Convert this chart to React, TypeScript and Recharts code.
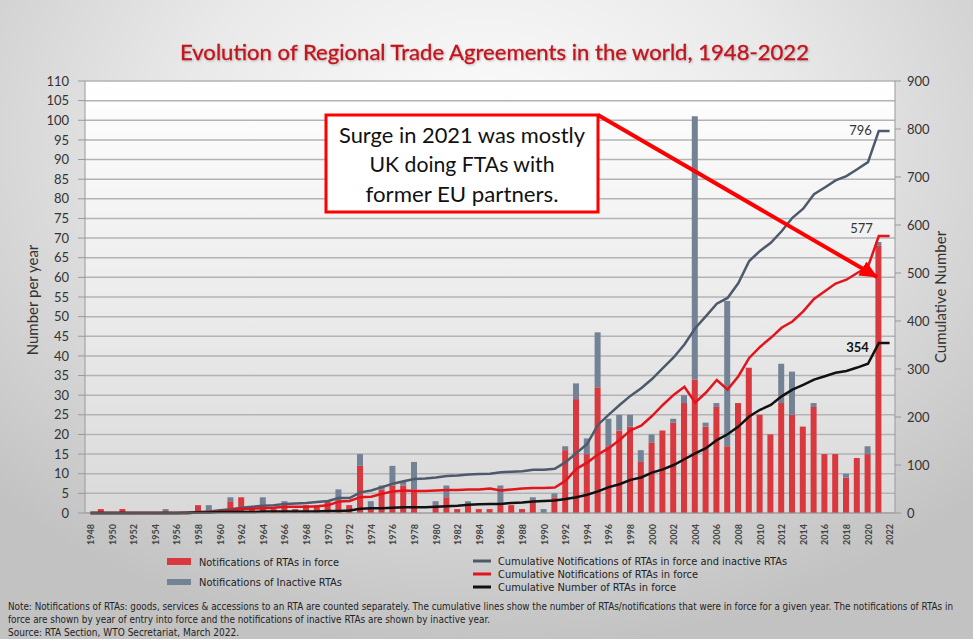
import React from "react";
import {
  ComposedChart,
  Bar,
  Line,
  XAxis,
  YAxis,
  CartesianGrid,
  LabelList,
} from "recharts";

// years 1948-2022
const years = [
  1948, 1949, 1950, 1951, 1952, 1953, 1954, 1955, 1956, 1957, 1958, 1959, 1960,
  1961, 1962, 1963, 1964, 1965, 1966, 1967, 1968, 1969, 1970, 1971, 1972, 1973,
  1974, 1975, 1976, 1977, 1978, 1979, 1980, 1981, 1982, 1983, 1984, 1985, 1986,
  1987, 1988, 1989, 1990, 1991, 1992, 1993, 1994, 1995, 1996, 1997, 1998, 1999,
  2000, 2001, 2002, 2003, 2004, 2005, 2006, 2007, 2008, 2009, 2010, 2011, 2012,
  2013, 2014, 2015, 2016, 2017, 2018, 2019, 2020, 2021, 2022,
];

// notifications of RTAs in force, per year
const inForce = [
  0, 1, 0, 1, 0, 0, 0, 0, 0, 0, 2, 0, 0,
  3, 4, 1, 2, 1, 2, 1, 2, 2, 3, 3, 2, 12,
  1, 6, 7, 7, 6, 0, 2, 4, 1, 2, 1, 1, 2,
  2, 1, 3, 0, 4, 16, 29, 15, 32, 17, 21, 22, 13,
  18, 21, 23, 28, 34, 22, 27, 17, 28, 37, 25, 20, 28,
  25, 22, 27, 15, 15, 9, 14, 15, 68, 0,
];

// notifications of inactive RTAs, per year
const inactive = [
  0, 0, 0, 0, 0, 0, 0, 1, 0, 0, 0, 2, 0,
  1, 0, 0, 2, 0, 1, 0, 0, 0, 0, 3, 0, 3,
  2, 1, 5, 1, 7, 0, 1, 3, 0, 1, 0, 0, 5,
  0, 0, 1, 1, 1, 1, 4, 4, 14, 7, 4, 3, 3,
  2, 0, 1, 2, 67, 1, 1, 37, 0, 0, 0, 0, 10,
  11, 0, 1, 0, 0, 1, 0, 2, 1, 0,
];

// cumulative notifications, in force + inactive
const cumAll = [
  0, 0, 0, 0, 0, 0, 0, 0, 0, 1, 2, 3, 6,
  8, 11, 13, 15, 16, 19, 20, 21, 23, 25, 31, 31, 43,
  47, 54, 61, 66, 71, 72, 74, 77, 78, 80, 81, 82, 85,
  86, 87, 90, 90, 92, 106, 125, 144, 184, 205, 225, 244, 260,
  279, 302, 324, 351, 385, 410, 436, 448, 479, 525, 546, 563, 587,
  615, 634, 664, 678, 693, 702, 716, 731, 796, 796,
];

// cumulative notifications in force
const cumInForce = [
  0, 0, 0, 0, 0, 0, 0, 0, 0, 0, 1, 2, 3,
  5, 8, 9, 10, 11, 13, 13, 13, 14, 16, 24, 25, 33,
  34, 40, 45, 47, 46, 46, 47, 48, 48, 49, 49, 51, 47,
  49, 51, 52, 52, 53, 67, 92, 105, 122, 135, 152, 172, 182,
  202, 225, 246, 263, 230, 251, 277, 257, 285, 323, 346, 365, 386,
  399, 420, 446, 462, 478, 486, 500, 513, 577, 577,
];

// cumulative number of RTAs in force
const cumRtas = [
  0, 0, 0, 0, 0, 0, 0, 0, 0, 0, 1, 1, 2,
  2, 2, 2, 3, 3, 3, 3, 3, 3, 4, 4, 5, 9,
  10, 10, 11, 12, 12, 12, 13, 14, 15, 17, 18, 19, 19,
  21, 22, 24, 25, 26, 29, 33, 38, 45, 54, 60, 69, 74,
  84, 91, 100, 112, 124, 135, 152, 164, 180, 201, 215, 225, 243,
  257, 267, 278, 285, 292, 296, 303, 311, 354, 354,
];

const leftTicks = [0, 5, 10, 15, 20, 25, 30, 35, 40, 45, 50, 55, 60, 65, 70, 75, 80, 85, 90, 95, 100, 105, 110];
const rightTicks = [0, 100, 200, 300, 400, 500, 600, 700, 800, 900];

const data = years.map((year, i) => ({
  year,
  inForce: inForce[i],
  inactive: inactive[i],
  cumAll: cumAll[i],
  cumInForce: cumInForce[i],
  cumRtas: cumRtas[i],
}));

const LABEL_YEAR = 2021;
const labelIdx = years.indexOf(LABEL_YEAR);

const FONT = "Lato, 'Open Sans', sans-serif";
const NARROW = "'Liberation Sans Narrow', 'DejaVu Sans Condensed', sans-serif";

const YearTick = (props: any) => {
  const { x, y, payload } = props;
  return (
    <text
      x={x}
      y={y + 3}
      transform={`rotate(-90 ${x} ${y + 3})`}
      textAnchor="end"
      dominantBaseline="central"
      fontSize={9}
      fontWeight="bold"
      fontFamily={FONT}
      fill="#444"
    >
      {payload.value}
    </text>
  );
};

const endLabel = (dx: number, dy: number, bold: boolean, color: string) => (p: any) => {
  if (p.index !== labelIdx) return <g />;
  return (
    <text
      x={p.x + dx}
      y={p.y + dy}
      textAnchor="end"
      fontSize={13}
      fontWeight={bold ? "bold" : "normal"}
      fontFamily={FONT}
      fill={color}
    >
      {p.value}
    </text>
  );
};

export default function App() {
  return (
    <div
      style={{
        position: "absolute",
        left: 0,
        top: 0,
        width: 973,
        height: 639,
        overflow: "hidden",
        background:
          "radial-gradient(ellipse 70% 80% at 50% 22%, #fdfdfd 0%, #e9e9e9 45%, #c2c2c2 100%)",
      }}
    >
      <ComposedChart
        width={973}
        height={560}
        data={data}
        margin={{ top: 81, right: 33, bottom: 7, left: 20 }}
        barGap={0}
      >
        <defs>
          <linearGradient id="plotBg" x1="0" y1="0" x2="0" y2="1">
            <stop offset="0%" stopColor="#ffffff" />
            <stop offset="100%" stopColor="#d9d9d9" />
          </linearGradient>
        </defs>
        <CartesianGrid
          yAxisId="left"
          vertical={false}
          fill="url(#plotBg)"
          fillOpacity={1}
          stroke="#b3b3b3"
          strokeWidth={1.5}
        />
        <XAxis
          dataKey="year"
          interval={1}
          height={40}
          tick={<YearTick />}
          tickLine={false}
          axisLine={{ stroke: "#999" }}
        />
        <YAxis
          yAxisId="left"
          width={65}
          domain={[0, 110]}
          ticks={leftTicks}
          interval={0}
          tickSize={7}
          tickMargin={9}
          tick={{ fill: "#333", fontSize: 13, fontFamily: FONT }}
          axisLine={{ stroke: "#999" }}
          tickLine={{ stroke: "#999" }}
        />
        <YAxis
          yAxisId="right"
          orientation="right"
          width={45}
          domain={[0, 900]}
          ticks={rightTicks}
          interval={0}
          tickSize={6}
          tickMargin={6}
          tick={{ fill: "#333", fontSize: 13, fontFamily: FONT, textAnchor: "start" }}
          axisLine={{ stroke: "#999" }}
          tickLine={{ stroke: "#999" }}
        />
        <Bar
          yAxisId="left"
          dataKey="inForce"
          stackId="a"
          fill="#d9383f"
          barSize={6}
          isAnimationActive={false}
        />
        <Bar
          yAxisId="left"
          dataKey="inactive"
          stackId="a"
          fill="#738294"
          barSize={6}
          isAnimationActive={false}
        />
        <Line
          yAxisId="right"
          dataKey="cumAll"
          type="linear"
          stroke="#4d5a6b"
          strokeWidth={2.5}
          dot={false}
          isAnimationActive={false}
        >
          <LabelList dataKey="cumAll" content={endLabel(-7, 4, false, "#333")} />
        </Line>
        <Line
          yAxisId="right"
          dataKey="cumInForce"
          type="linear"
          stroke="#e3141c"
          strokeWidth={2.5}
          dot={false}
          isAnimationActive={false}
        >
          <LabelList dataKey="cumInForce" content={endLabel(-6, -3, false, "#333")} />
        </Line>
        <Line
          yAxisId="right"
          dataKey="cumRtas"
          type="linear"
          stroke="#111"
          strokeWidth={2.5}
          dot={false}
          isAnimationActive={false}
        >
          <LabelList dataKey="cumRtas" content={endLabel(-10, 9, true, "#111")} />
        </Line>
      </ComposedChart>

      <svg
        width={973}
        height={639}
        style={{ position: "absolute", left: 0, top: 0, pointerEvents: "none" }}
      >
        <defs>
          <filter id="shadow" x="-5%" y="-20%" width="110%" height="160%">
            <feDropShadow dx="1" dy="1" stdDeviation="0.8" floodColor="#000" floodOpacity="0.25" />
          </filter>
          <marker
            id="arrowHead"
            markerUnits="userSpaceOnUse"
            markerWidth="18"
            markerHeight="16"
            refX="17"
            refY="8"
            orient="auto"
          >
            <path d="M0,0 L18,8 L0,16 Z" fill="#ff0000" />
          </marker>
        </defs>

        <text
          x={180}
          y={60}
          fontSize={21}
          fontFamily={FONT}
          fill="#c0141c"
          stroke="#c0141c"
          strokeWidth={0.3}
          textLength={629}
          lengthAdjust="spacingAndGlyphs"
          filter="url(#shadow)"
        >
          Evolution of Regional Trade Agreements in the world, 1948-2022
        </text>

        <text
          transform="translate(38 300) rotate(-90)"
          textAnchor="middle"
          fontSize={15}
          fontFamily={FONT}
          fill="#333"
        >
          Number per year
        </text>
        <text
          transform="translate(946 297) rotate(-90)"
          textAnchor="middle"
          fontSize={15}
          fontFamily={FONT}
          fill="#333"
        >
          Cumulative Number
        </text>

        {/* annotation */}
        <line x1={598} y1={115} x2={877} y2={277} stroke="#ff0000" strokeWidth={4} markerEnd="url(#arrowHead)" />
        <rect x={326} y={115} width={272} height={97} fill="#fff" stroke="#ff0000" strokeWidth={3} />
        <g fontFamily={FONT} fontSize={21} fill="#111" textAnchor="middle">
          <text x={462} y={143} textLength={246} lengthAdjust="spacingAndGlyphs">
            Surge in 2021 was mostly
          </text>
          <text x={462} y={172} textLength={185} lengthAdjust="spacingAndGlyphs">
            UK doing FTAs with
          </text>
          <text x={462} y={202} textLength={193} lengthAdjust="spacingAndGlyphs">
            former EU partners.
          </text>
        </g>

        {/* legend */}
        <g fontFamily={NARROW} fontSize={10.5} fill="#222">
          <rect x={167} y={558} width={24} height={7} fill="#d9383f" />
          <text x={199} y={566} textLength={140} lengthAdjust="spacingAndGlyphs">
            Notifications of RTAs in force
          </text>
          <rect x={167} y={579} width={24} height={6} fill="#738294" />
          <text x={199} y={586} textLength={143} lengthAdjust="spacingAndGlyphs">
            Notifications of Inactive RTAs
          </text>
          <line x1={473} y1={561} x2={491} y2={561} stroke="#4d5a6b" strokeWidth={3} />
          <text x={498} y={565} textLength={289} lengthAdjust="spacingAndGlyphs">
            Cumulative Notifications of RTAs in force and inactive RTAs
          </text>
          <line x1={473} y1={574} x2={491} y2={574} stroke="#e3141c" strokeWidth={3} />
          <text x={498} y={578} textLength={200} lengthAdjust="spacingAndGlyphs">
            Cumulative Notifications of RTAs in force
          </text>
          <line x1={473} y1={587} x2={491} y2={587} stroke="#111" strokeWidth={3} />
          <text x={498} y={591} textLength={178} lengthAdjust="spacingAndGlyphs">
            Cumulative Number of RTAs in force
          </text>
        </g>

        {/* notes */}
        <g fontFamily={NARROW} fontSize={10} fill="#222">
          <text x={8} y={610} textLength={945} lengthAdjust="spacingAndGlyphs">
            Note: Notifications of RTAs: goods, services &amp; accessions to an RTA are counted separately. The cumulative lines show the number of RTAs/notifications that were in force for a given year. The notifications of RTAs in
          </text>
          <text x={8} y={623} textLength={482} lengthAdjust="spacingAndGlyphs">
            force are shown by year of entry into force and the notifications of inactive RTAs are shown by inactive year.
          </text>
          <text x={8} y={636} textLength={231} lengthAdjust="spacingAndGlyphs">
            Source: RTA Section, WTO Secretariat, March 2022.
          </text>
        </g>
      </svg>
    </div>
  );
}
